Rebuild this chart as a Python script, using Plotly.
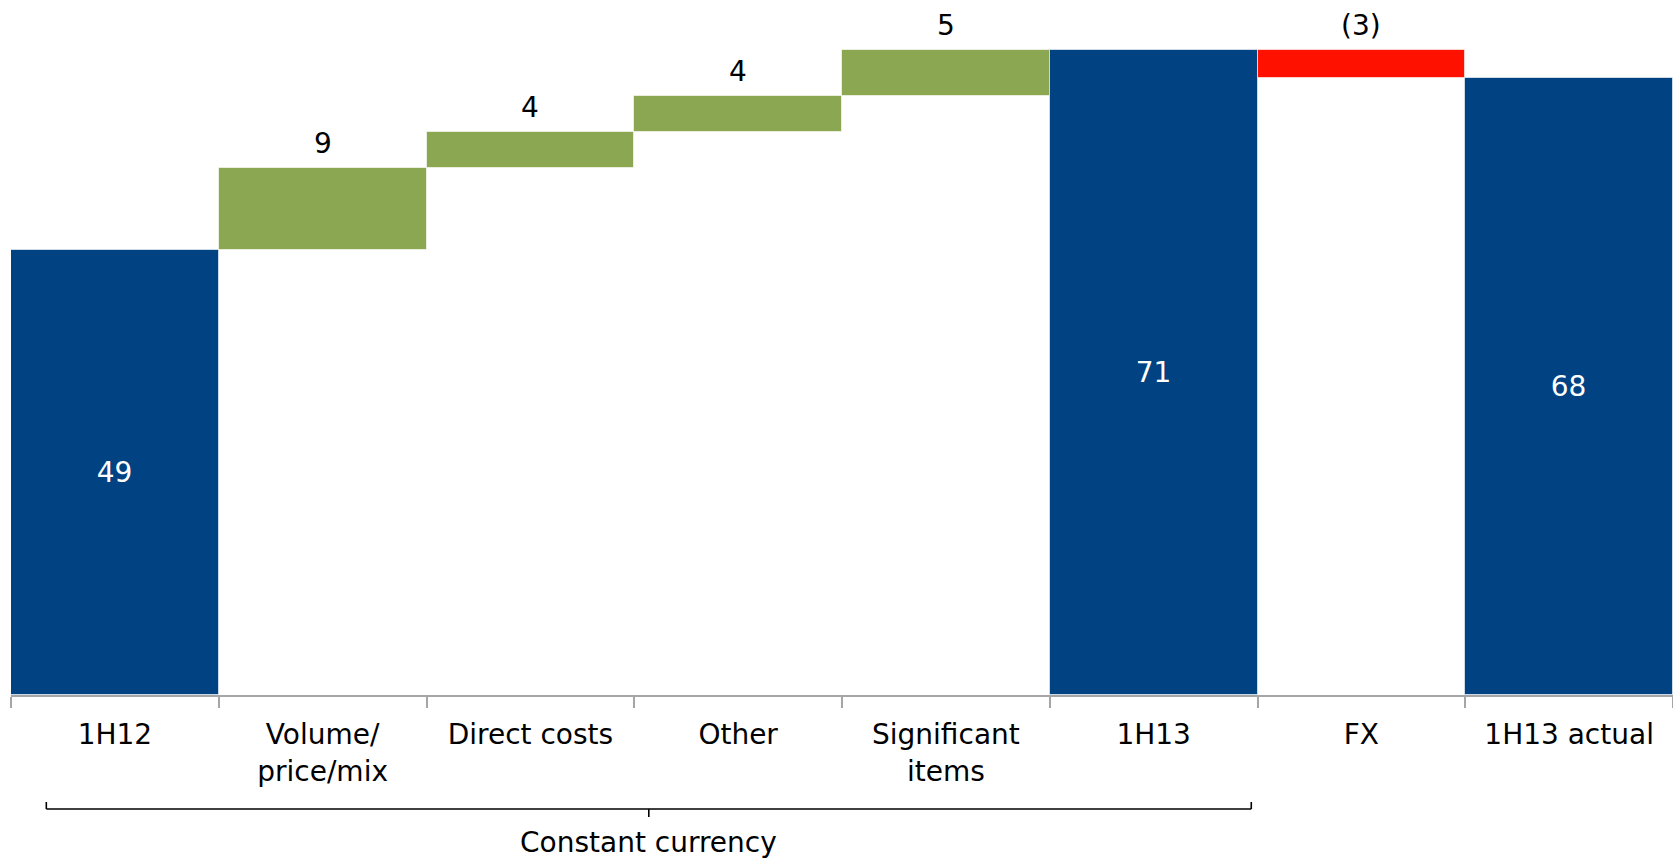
import plotly.graph_objects as go

categories = ["1H12", "Volume/<br>price/mix", "Direct costs", "Other", "Significant<br>items", "1H13", "FX", "1H13 actual"]
values = [49, 9, 4, 4, 5, 71, -3, 68]
kinds = ["total", "delta", "delta", "delta", "delta", "total", "delta", "total"]
bracket_label = "Constant currency"
bracket_from, bracket_to = 0, 5  # category indices spanned

BLUE = "#004282"
GREEN = "#8BA751"
RED = "#FF1100"
FONT = "DejaVu Sans"
FS = 28

bases, heights, colors = [], [], []
running = 0
for v, k in zip(values, kinds):
    if k == "total":
        bases.append(0)
        heights.append(v)
        colors.append(BLUE)
        running = v
    else:
        lo = min(running, running + v)
        bases.append(lo)
        heights.append(abs(v))
        colors.append(GREEN if v >= 0 else RED)
        running += v

fig = go.Figure()
fig.add_trace(go.Bar(
    x=categories, y=heights, base=bases,
    marker=dict(color=colors, line=dict(color="rgba(255,255,255,0.6)", width=1)),
    text=[str(v) if k == "total" else "" for v, k in zip(values, kinds)],
    textposition="inside", insidetextanchor="middle",
    textfont=dict(color="white", size=FS, family=FONT),
    hoverinfo="skip",
))

annotations = []
for i, (v, k, b, h) in enumerate(zip(values, kinds, bases, heights)):
    if k == "delta":
        annotations.append(dict(
            x=i, y=b + h, xref="x", yref="y", text=str(v) if v >= 0 else f"({-v})",
            showarrow=False, yanchor="bottom", yshift=6,
            font=dict(size=FS, color="black", family=FONT),
        ))

W, H = 1673, 858
ML, MB = 11, 163
plot_h = H - MB
n = len(categories)

def xp(idx):
    return (idx + 0.5) / n

def yp(py):
    return (plot_h - py) / plot_h

left = xp(bracket_from - 0.33)
right = xp(bracket_to + 0.47)
mid = (left + right) / 2

line = dict(color="black", width=1.6)
shapes = [
    dict(type="line", xref="paper", yref="paper", x0=left, x1=right, y0=yp(809), y1=yp(809), line=line),
    dict(type="line", xref="paper", yref="paper", x0=left, x1=left, y0=yp(809), y1=yp(802), line=line),
    dict(type="line", xref="paper", yref="paper", x0=right, x1=right, y0=yp(809), y1=yp(802), line=line),
    dict(type="line", xref="paper", yref="paper", x0=mid, x1=mid, y0=yp(809), y1=yp(817), line=line),
]
annotations.append(dict(
    x=mid, y=yp(842), xref="paper", yref="paper", text=bracket_label, showarrow=False,
    yanchor="middle", font=dict(size=FS, color="black", family=FONT),
))

fig.update_layout(
    width=W, height=H,
    margin=dict(l=ML, r=0, t=0, b=MB, pad=0),
    paper_bgcolor="white", plot_bgcolor="white",
    bargap=0, showlegend=False,
    xaxis=dict(
        type="category",
        showline=True, linecolor="#A6A6A6", linewidth=1.5,
        ticks="outside", tickson="boundaries", ticklen=11, tickcolor="#A6A6A6", tickwidth=1.5,
        ticklabelstandoff=14,
        tickfont=dict(size=FS, color="black", family=FONT),
        showgrid=False, zeroline=False, fixedrange=True,
    ),
    yaxis=dict(range=[0, plot_h / 9.08], visible=False, showgrid=False, zeroline=False),
    shapes=shapes, annotations=annotations,
    font=dict(family=FONT),
)

fig.write_html(
    "out.html",
    config={"displayModeBar": False},
    post_script="document.body.style.margin='0';document.body.style.overflow='hidden';",
)
